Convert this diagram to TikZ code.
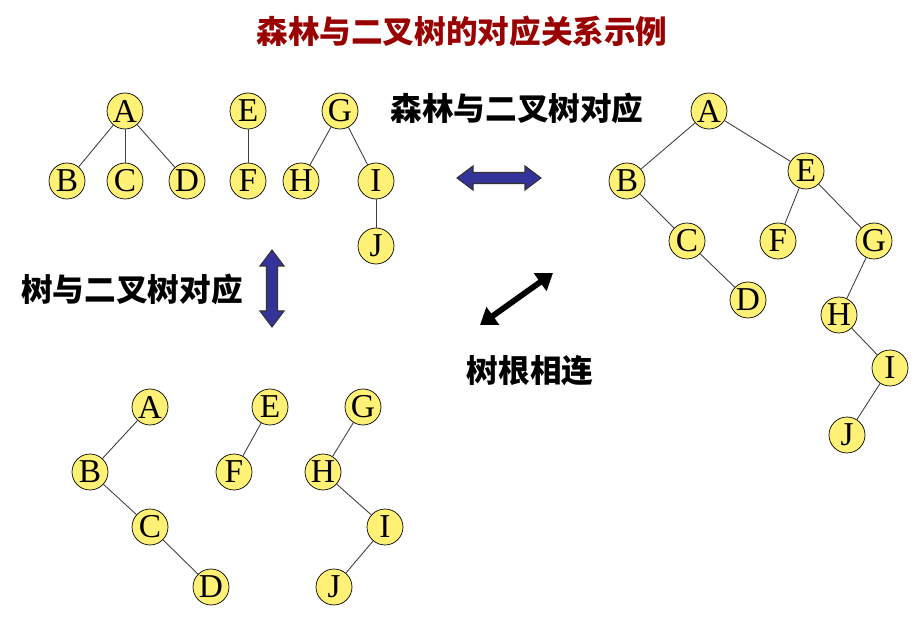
\documentclass[tikz,border=0pt]{standalone}
\usepackage{fontspec}
\setmainfont{Liberation Serif}
\newfontfamily\cjk{Noto Sans CJK SC}
\usepackage{tikz}
\usetikzlibrary{positioning, arrows.meta}

\definecolor{leafyellow}{RGB}{255,241,117}
\definecolor{titlered}{RGB}{153,0,0}
\definecolor{arrowblue}{RGB}{51,51,153}

\begin{document}
\begin{tikzpicture}[x=0.02cm, y=-0.02cm,
    vertex/.style={circle, draw=black, fill=leafyellow, minimum size=0.72cm,
        inner sep=0pt, font=\fontsize{19}{19}\selectfont},
    edge/.style={draw=black!75, line width=0.5pt},
    caption/.style={font=\cjk\bfseries\fontsize{18}{18}\selectfont},
    bigarrow/.style={draw=black!80, fill=arrowblue, line width=0.6pt}]

    \useasboundingbox (0,0) rectangle (920,631);

    % Title
    \node[caption, text=titlered] (title) at (462,31) {森林与二叉树的对应关系示例};

    % Forest (top left)
    \node[vertex] (fa) at (125,111) {A};
    \node[vertex] (fb) at (67,181) {B};
    \node[vertex] (fc) at (125,181) {C};
    \node[vertex] (fd) at (187,181) {D};
    \node[vertex] (fe) at (248,111) {E};
    \node[vertex] (ff) at (248,181) {F};
    \node[vertex] (fg) at (340,111) {G};
    \node[vertex] (fh) at (301,181) {H};
    \node[vertex] (fi) at (376,181) {I};
    \node[vertex] (fj) at (376,246) {J};
    \foreach \p/\c in {fa/fb, fa/fc, fa/fd, fe/ff, fg/fh, fg/fi, fi/fj}
        \draw[edge] (\p) -- (\c);

    % Binary trees of each tree (bottom left)
    \node[vertex] (ta) at (150,407) {A};
    \node[vertex] (tb) at (90,472) {B};
    \node[vertex] (tc) at (150,527) {C};
    \node[vertex] (td) at (211,587) {D};
    \node[vertex] (te) at (270,407) {E};
    \node[vertex] (tf) at (234,472) {F};
    \node[vertex] (tg) at (363,407) {G};
    \node[vertex] (th) at (323,472) {H};
    \node[vertex] (ti) at (385,527) {I};
    \node[vertex] (tj) at (334,587) {J};
    \foreach \p/\c in {ta/tb, tb/tc, tc/td, te/tf, tg/th, th/ti, ti/tj}
        \draw[edge] (\p) -- (\c);

    % Whole binary tree (right)
    \node[vertex] (ba) at (709,111) {A};
    \node[vertex] (bb) at (627,181) {B};
    \node[vertex] (bc) at (687,241) {C};
    \node[vertex] (bd) at (748,300) {D};
    \node[vertex] (be) at (806,171) {E};
    \node[vertex] (bf) at (778,241) {F};
    \node[vertex] (bg) at (874,241) {G};
    \node[vertex] (bh) at (839,315) {H};
    \node[vertex] (bi) at (890,368) {I};
    \node[vertex] (bj) at (847,435) {J};
    \foreach \p/\c in {ba/bb, bb/bc, bc/bd, ba/be, be/bf, be/bg, bg/bh, bh/bi, bi/bj}
        \draw[edge] (\p) -- (\c);

    % Labels
    \node[caption] (forestlbl) at (517,108) {森林与二叉树对应};
    \node[caption] (treelbl) at (132,289) {树与二叉树对应};
    \node[caption] (rootlbl) at (530,371) {树根相连};

    % Blue block arrows
    \draw[bigarrow] (457,178) -- (473,166) -- (473,172.5) -- (525,172.5) -- (525,166)
        -- (541,178) -- (525,190) -- (525,183.5) -- (473,183.5) -- (473,190) -- cycle;
    \draw[bigarrow] (272,250) -- (284,266) -- (277.5,266) -- (277.5,311) -- (284,311)
        -- (272,327) -- (260,311) -- (266.5,311) -- (266.5,266) -- (260,266) -- cycle;

    % Black double arrow
    \coordinate (dlow) at (480,325);
    \coordinate (dhigh) at (553,273);
    \draw[line width=3.3pt, {Triangle[length=9pt, width=12pt]}-{Triangle[length=9pt, width=12pt]}]
        (dlow) -- (dhigh);

\end{tikzpicture}
\end{document}
